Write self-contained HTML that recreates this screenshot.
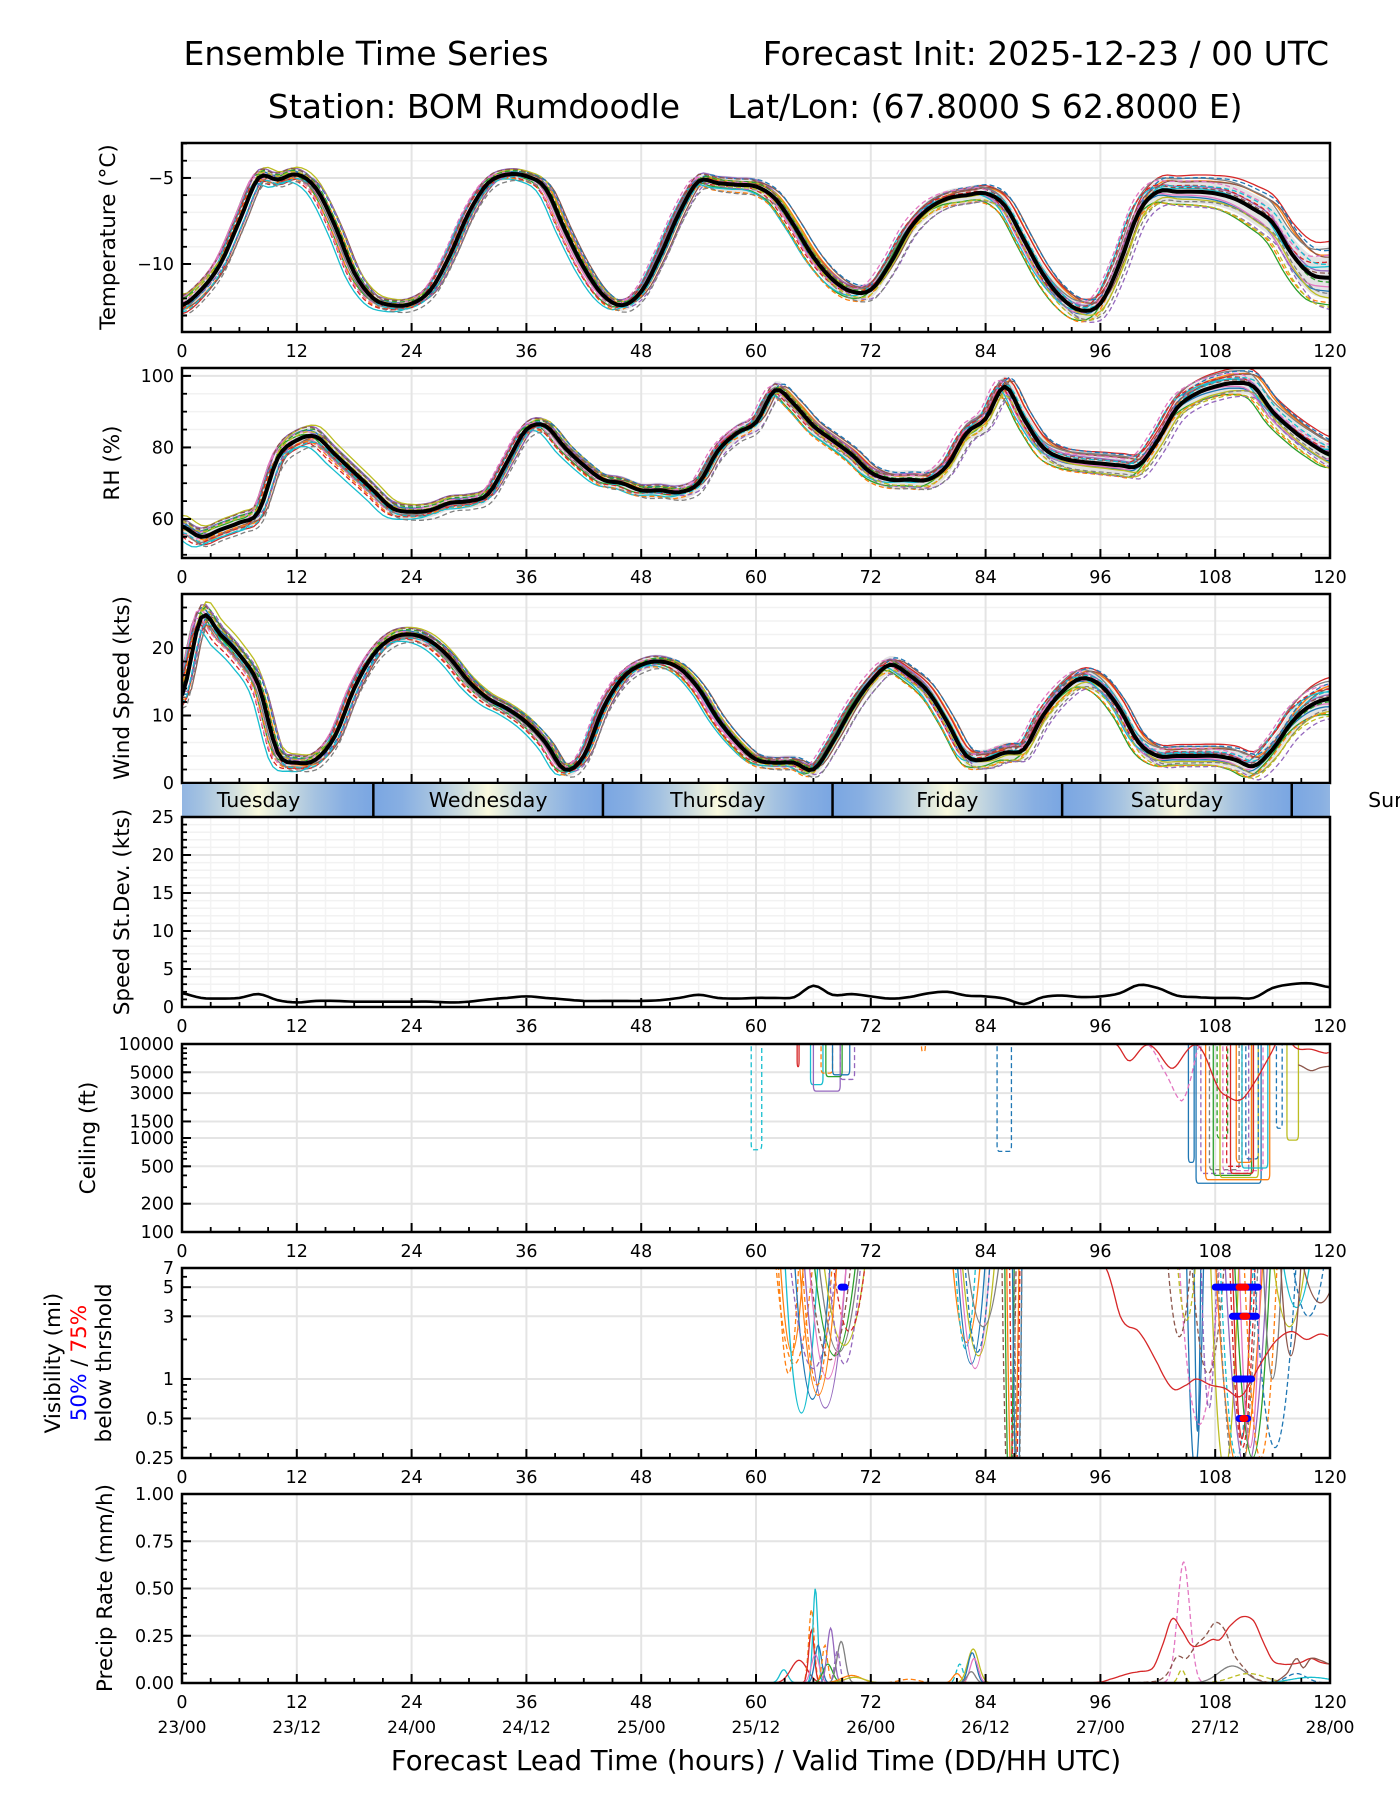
<!DOCTYPE html>
<html><head><meta charset="utf-8"><title>Ensemble Time Series</title>
<style>html,body{margin:0;padding:0;background:#fff;width:1400px;height:1800px;overflow:hidden}svg{display:block;font-family:"DejaVu Sans","Liberation Sans",sans-serif}</style>
</head><body>
<svg id="chart" width="1400" height="1800" viewBox="0 0 1400 1800" xmlns="http://www.w3.org/2000/svg">
<defs id="defs"></defs>
<text x="366" y="65" font-size="33" text-anchor="middle">Ensemble Time Series</text>
<text x="1329" y="65" font-size="33" text-anchor="end">Forecast Init: 2025-12-23 / 00 UTC</text>
<text x="474" y="118" font-size="33" text-anchor="middle">Station: BOM Rumdoodle</text>
<text x="985" y="118" font-size="33" text-anchor="middle">Lat/Lon: (67.8000 S 62.8000 E)</text>
<g id="root"></g>
</svg>
<script>
// ---------- DATA ----------
const leadHours2h = [0,2,4,6,8,10,12,14,16,18,20,22,24,26,28,30,32,34,36,38,40,42,44,46,48,50,52,54,56,58,60,62,64,66,68,70,72,74,76,78,80,82,84,86,88,90,92,94,96,98,100,102,104,106,108,110,112,114,116,118,120];
const tempMean = [-12.4,-11.5,-10.0,-7.5,-5.0,-5.1,-4.8,-5.6,-7.8,-10.5,-12.0,-12.4,-12.3,-11.5,-9.5,-7.0,-5.3,-4.8,-4.9,-5.6,-8.0,-10.2,-11.8,-12.4,-11.6,-9.5,-7.0,-5.2,-5.3,-5.4,-5.5,-6.2,-7.8,-9.6,-10.9,-11.6,-11.5,-10.0,-8.0,-6.8,-6.2,-6.0,-5.9,-6.6,-8.6,-10.6,-12.0,-12.7,-12.3,-10.0,-7.0,-5.8,-5.8,-5.8,-5.9,-6.2,-6.8,-7.6,-9.4,-10.6,-10.8];
const rhMean = [58,55,57,59,62,77,82,83,78,73,68,63,62,62.5,64.5,65,67,76,85,86,80,75,71,70,68,68,67.5,70,79,84,87,96,92,86,82,78,73,71,71,71,75,84,88,97,88,80,77,76,75.5,75,75,82,91,95,97,98,97,90,85,81,78];
const windMean = [13,24.5,22,19,14.5,4.5,3,3.5,7,14,19,21.5,22,21,18.5,15,12.5,11,9,6,2,4,11,15.5,17.5,18,17,14,9.5,6,3.5,3,3,2,6,11,15,17.5,16,13.5,9,4,3.5,4.5,5,10,13.5,15.5,14.5,11,6,4,4,4,4,3.5,2.5,5,9,11.5,12.5];
const sdMean = [1.8,1.2,1.1,1.2,1.7,0.9,0.6,0.8,0.8,0.7,0.7,0.7,0.7,0.7,0.6,0.7,1.0,1.2,1.4,1.2,1.0,0.8,0.8,0.8,0.8,0.9,1.2,1.6,1.2,1.1,1.2,1.2,1.3,2.8,1.6,1.7,1.4,1.1,1.3,1.8,2.0,1.5,1.4,1.1,0.4,1.3,1.5,1.3,1.4,1.8,2.9,2.5,1.5,1.3,1.2,1.2,1.2,2.5,3.0,3.1,2.6];
const spreadHours = [0,12,24,36,48,60,72,84,96,108,120];
const tempSpread = [0.4,0.3,0.3,0.3,0.35,0.5,0.5,0.5,0.6,0.7,1.2];
const rhSpread = [2,2.5,2,2,2,2.5,2.5,3,3,3,3];
const windSpread = [1.5,1,1,1,1,1,1.3,1.5,1.5,1.3,2];
const memColors = ['#1f77b4','#ff7f0e','#2ca02c','#d62728','#9467bd','#8c564b','#e377c2','#7f7f7f','#bcbd22','#17becf'];
const memOffA = [0.8,-0.5,0.3,-1.1,1.2,-0.2,0.6,-0.8,1.5,-1.4,0.1,-0.6,0.9,-1.0,0.4,1.1,-0.3,-1.3,0.7,-0.9];
const memOffB = [-0.6,1.0,-1.2,1.6,0.3,0.9,-0.4,1.3,-0.9,0.5,1.2,-1.1,-0.2,0.7,-1.4,0.2,1.0,-0.7,-1.3,0.6];
const memShift = [0.3,-0.4,0.6,-0.2,0.1,-0.7,0.5,0.2,-0.3,0.8,-0.5,0.4,-0.1,0.6,-0.6,0.2,0.7,-0.4,0.0,-0.2];
// ceiling events
const ceilStart = [59.5,64.3,65.7,66.0,66.8,67.3,68.0,68.8,77.3,85.2,105.2,106.0,106.5,107.0,107.4,107.8,108.2,108.5,108.8,109.2,109.6,110.2,110.8,111.2,114.4,115.5];
const ceilEnd = [60.6,64.5,67.0,68.8,68.0,69.0,69.8,70.3,77.7,86.7,105.8,112.8,111.5,113.7,110.5,111.8,109.3,112.5,113.0,110.8,112.0,111.8,113.5,112.5,115.0,116.7];
const ceilMin = [750,5750,3700,3150,4900,4500,4700,4200,8300,720,550,330,420,360,460,400,1000,380,450,500,420,550,480,600,1270,950];
const ceilColor = [9,3,9,4,1,2,0,4,1,0,0,0,4,1,7,2,2,8,6,3,3,1,9,0,0,8];
const ceilDash = [1,0,0,0,1,0,0,1,1,1,0,0,1,0,1,0,1,0,1,1,0,0,0,1,1,0];
const ceilRedH = [97.6,99,101,103.5,106,108,109.5,111,112.5,113.7,115,116.5,118,119.5,120];
const ceilRedV = [10000,6600,9800,5500,9800,4000,2700,2700,4500,7500,12000,9000,8800,8000,8200];
const ceilPinkH = [101,102.5,104.4,105.5,106.5];
const ceilPinkV = [9800,5500,2500,4500,10500];
const ceilBrownH = [116.7,118,119,120];
const ceilBrownV = [6000,5200,5600,5800];
// visibility events
const visStart = [62.0,62.3,62.5,63.0,64.0,63.5,65.0,64.8,65.5,66.0,66.5,67.0,67.5,68.0,65.5,64.5,80.5,80.8,81.0,81.3,81.5,81.8,82.0,85.7,86.0,86.2,86.5,86.8,87.0,105.0,105.8,104.2,105.5,106.5,107.5,108.0,108.2,108.5,109.0,109.5,109.8,110.0,110.5,111.0,112.0,113.0,114.0,115.0,116.0,117.0,114.8,104.0,103.0];
const visEnd = [66.0,64.5,65.0,66.5,67.8,68.5,69.5,68.0,70.0,70.5,70.8,71.5,71.0,71.5,69.5,68.5,83.5,83.0,84.0,84.5,85.0,84.5,85.5,87.2,87.0,87.5,87.6,87.8,87.8,106.8,106.5,108.5,109.0,108.2,110.5,113.0,112.5,112.0,113.5,112.2,111.8,113.8,112.8,114.5,116.5,115.0,117.5,118.0,119.5,121.0,117.0,106.0,105.5];
const visMin = [1.3,1.1,1.6,0.55,0.7,1.2,0.6,0.9,1.4,1.5,1.6,1.8,1.3,2.3,1.0,0.75,1.9,1.7,1.3,1.2,1.5,1.6,2.5,0.1,0.1,0.1,0.1,0.1,0.1,0.2,0.4,0.45,1.1,0.6,0.2,0.2,0.15,0.25,0.2,0.3,0.35,0.25,0.3,0.25,0.3,1.0,2.5,3.5,3.0,3.8,1.5,2.8,2.1];
const visColor = [1,1,1,9,0,4,4,1,5,2,7,8,4,3,6,1,1,9,0,6,8,0,7,5,2,1,3,0,7,0,0,6,5,4,8,1,7,9,4,3,3,2,6,1,0,7,8,9,0,5,5,8,5];
const visDash = [1,1,0,0,0,1,0,1,1,0,0,0,1,1,0,0,0,1,0,0,0,1,0,1,0,0,1,0,1,0,0,1,1,1,0,0,1,1,0,1,0,0,0,1,1,0,0,0,1,0,0,1,1];
const visRedH = [96.3,98,100,102,103.5,105,106,107.5,109,110.5,111.5,113,114.5,116,117.5,119,120];
const visRedV = [7.5,3.1,2.3,1.3,0.85,0.9,1.0,0.9,0.85,0.73,0.9,1.4,2.0,2.3,2.0,2.2,2.1];
const vis50Level = [5,3,1,0.5,5];
const vis50Start = [108.0,109.8,110.1,110.5,68.9];
const vis50End = [112.5,112.3,111.8,111.4,69.3];
const vis75Level = [5,3,0.5];
const vis75Start = [110.5,110.9,110.9];
const vis75End = [111.2,111.3,111.1];
// precipitation
const prCenter = [62.9,64.5,65.8,65.8,66.2,66.5,66.2,67.5,67.8,67.2,68.9,68.5,70.0,70.3,76.0,81.3,81.0,82.7,82.6,82.8,82.5,104.7,104.5,109.8,111.5,116.5,118.0];
const prPeak = [0.07,0.12,0.39,0.28,0.5,0.2,0.15,0.1,0.29,0.2,0.22,0.17,0.04,0.03,0.02,0.1,0.05,0.18,0.16,0.13,0.06,0.64,0.07,0.09,0.05,0.05,0.03];
const prWidth = [0.6,1.2,0.4,0.4,0.35,0.5,0.6,0.7,0.5,0.4,0.6,0.4,1.5,1.5,1.5,0.5,0.6,0.8,0.6,0.6,0.6,0.9,0.5,2.0,2.5,1.5,3.0];
const prColor = [9,3,1,3,9,0,6,2,4,1,7,4,1,8,1,9,1,8,0,6,7,6,8,7,8,0,9];
const prDash = [0,0,1,0,0,0,0,0,0,1,0,1,0,0,1,1,0,0,0,0,0,1,1,0,1,1,0];
const prRedH = [94,96,97,99,100,101.5,102.5,103.5,104.5,105.5,106.5,107.7,108.5,109.5,110.8,112,113,114,115,116,117,118,119,120];
const prRedV = [0,0.005,0.02,0.05,0.06,0.08,0.2,0.34,0.28,0.2,0.2,0.23,0.23,0.3,0.35,0.33,0.22,0.12,0.1,0.1,0.11,0.13,0.11,0.1];
const prBrownH = [98,102,103,104,105,106,107,108,109,110,111,112,113,114];
const prBrownV = [0,0.01,0.05,0.14,0.13,0.2,0.25,0.32,0.28,0.15,0.08,0.03,0.01,0];
const prBrown2H = [114,115.5,116.5,117.2,118,119,120];
const prBrown2V = [0,0.05,0.13,0.08,0.13,0.12,0.1];
const xMajorTicks = [0,12,24,36,48,60,72,84,96,108,120];
const validLabels = ['23/00','23/12','24/00','24/12','25/00','25/12','26/00','26/12','27/00','27/12','28/00'];
const dayNames = ['Tuesday','Wednesday','Thursday','Friday','Saturday','Sunday'];
const dayNoonHours = [8,32,56,80,104,128];
const dayMidnightHours = [20,44,68,92,116];

// ---------- HELPERS ----------
const NS='http://www.w3.org/2000/svg';
const root=document.getElementById('root');
const defs=document.getElementById('defs');
function mk(tag,attrs,parent){const e=document.createElementNS(NS,tag);for(const k in attrs)e.setAttribute(k,attrs[k]);(parent||root).appendChild(e);return e;}
const XL=182,XR=1330;
function X(h){return XL+h*(XR-XL)/120;}
function interp(xs,ys,t){if(t<=xs[0])return ys[0];const n=xs.length;if(t>=xs[n-1])return ys[n-1];let i=0;while(xs[i+1]<t)i++;const f=(t-xs[i])/(xs[i+1]-xs[i]);return ys[i]+f*(ys[i+1]-ys[i]);}
function smooth(xs,ys,t){
 const n=xs.length;if(t<=xs[0])return ys[0];if(t>=xs[n-1])return ys[n-1];let i=0;while(xs[i+1]<t)i++;
 const f=(t-xs[i])/(xs[i+1]-xs[i]);const p0=ys[Math.max(i-1,0)],p1=ys[i],p2=ys[i+1],p3=ys[Math.min(i+2,n-1)];
 return 0.5*((2*p1)+(-p0+p2)*f+(2*p0-5*p1+4*p2-p3)*f*f+(-p0+3*p1-3*p2+p3)*f*f*f);}
function linScale(v0,v1,top,bot){return v=>bot-(v-v0)/(v1-v0)*(bot-top);}
function logScale(v0,v1,top,bot){return v=>bot-(Math.log(v)-Math.log(v0))/(Math.log(v1)-Math.log(v0))*(bot-top);}
let clipId=0;
function panelFrame(name,top,bot,Y,gridMajor,gridMinor,yLabels,yTickVals,minorTickVals,showXGridMinor){
 const g=mk('g',{});
 
 
 if(showXGridMinor){for(let h=3;h<120;h+=3){if(h%12===0)continue;const l=mk('line',{x1:X(h),x2:X(h),y1:top,y2:bot,stroke:'#f3f3f3','stroke-width':1.5},g);}}
 gridMinor.forEach(v=>{const l=mk('line',{x1:XL,x2:XR,y1:Y(v),y2:Y(v),stroke:'#f2f2f2','stroke-width':1.5},g);});
 gridMajor.forEach(v=>{const l=mk('line',{x1:XL,x2:XR,y1:Y(v),y2:Y(v),stroke:'#e4e4e4','stroke-width':2},g);});
 xMajorTicks.forEach(h=>{const l=mk('line',{x1:X(h),x2:X(h),y1:top,y2:bot,stroke:'#e4e4e4','stroke-width':2},g);});
 const cp=mk('clipPath',{id:'cp'+(++clipId)},defs);mk('rect',{x:XL,y:top,width:XR-XL,height:bot-top},cp);
 const data=mk('g',{'clip-path':'url(#cp'+clipId+')'},g);
 
 
 return {g,data,top,bot,Y,yLabels,yTickVals,minorTickVals,name};
}
function panelAxes(p,xLabelOffset){
 const {g,top,bot,Y}=p;
 const fr=mk('rect',{x:XL,y:top,width:XR-XL,height:bot-top,fill:'none',stroke:'#000','stroke-width':2.5},g);
 
 
 p.minorTickVals.forEach(v=>{const y=Y(v);if(y<top-0.5||y>bot+0.5)return;const t=mk('line',{x1:XL,x2:XL+5,y1:y,y2:y,stroke:'#000','stroke-width':1.8},g);});
 p.yTickVals.forEach((v,i)=>{const y=Y(v);const t=mk('line',{x1:XL,x2:XL+9,y1:y,y2:y,stroke:'#000','stroke-width':2},g);
  const tx=mk('text',{x:XL-8,y:y+6,'font-size':17.5,'text-anchor':'end'},g);tx.textContent=p.yLabels[i];});
 for(let h=3;h<120;h+=3){const maj=h%12===0;const t=mk('line',{x1:X(h),x2:X(h),y1:bot,y2:bot-(maj?9:5),stroke:'#000','stroke-width':maj?2:1.8},g);}
 if(xLabelOffset){xMajorTicks.forEach(h=>{const tx=mk('text',{x:X(h),y:bot+xLabelOffset,'font-size':17.5,'text-anchor':'middle'},g);tx.textContent=String(h);});}
}
function yTitle(x,cy,text){const t=mk('text',{x:0,y:0,'font-size':21.5,'text-anchor':'middle',transform:`translate(${x},${cy}) rotate(-90)`});t.textContent=text;return t;}
function pathFrom(pts){return pts.map((p,i)=>(i?'L':'M')+p[0].toFixed(1)+','+p[1].toFixed(1)).join('');}
function ensemblePanel(p,mean,spread,scaleFactor){
 const Y=p.Y;const up=[],dn=[],mp=[];
 for(let t=0;t<=120;t+=0.5){const m=smooth(leadHours2h,mean,t),s=interp(spreadHours,spread,t);up.push([X(t),Y(m+s)]);dn.push([X(t),Y(m-s)]);mp.push([X(t),Y(m)]);}
 const band=mk('path',{d:pathFrom(up.concat(dn.reverse()))+'Z',fill:'#d9d9d9','fill-opacity':0.7},p.data);
 
 
 for(let m=0;m<20;m++){const pts=[];
  for(let t=0;t<=120;t+=0.5){const f=t/120;const off=memOffA[m]*(1-f)+memOffB[m]*f;const v=smooth(leadHours2h,mean,Math.min(120,Math.max(0,t+memShift[m])))+interp(spreadHours,spread,t)*off*scaleFactor;pts.push([X(t),Y(v)]);}
  const l=mk('path',{d:pathFrom(pts),fill:'none',stroke:memColors[m%10],'stroke-width':1.3,'stroke-dasharray':m>=10?'5,3':'none'},p.data);
  
  }
 const ml=mk('path',{d:pathFrom(mp),fill:'none',stroke:'#000','stroke-width':4,'stroke-linejoin':'round'},p.data);
 
 
}
function range(a,b,s){const r=[];for(let v=a;v<=b+1e-9;v+=s)r.push(+v.toFixed(4));return r;}

// ---------- TEMPERATURE ----------
let Y=linScale(-13.95,-2.97,143,332);
let p=panelFrame('temperature',143,332,Y,[-5,-10],range(-13,-3,1),['\u22125','\u221210'],[-5,-10],range(-13,-3,1),false);
ensemblePanel(p,tempMean,tempSpread,1.1);
panelAxes(p,25);
let yt=yTitle(115,237,'Temperature (\u00b0C)');

// ---------- RH ----------
Y=linScale(49.1,102.2,368,558);
p=panelFrame('rh',368,558,Y,[60,80,100],range(50,100,5),['60','80','100'],[60,80,100],range(50,100,5),false);
ensemblePanel(p,rhMean,rhSpread,1);
panelAxes(p,25);
yt=yTitle(119,463,'RH (%)');

// ---------- WIND ----------
Y=linScale(0,28,594,783);
p=panelFrame('wind-speed',594,783,Y,[0,10,20],range(2,28,2),['0','10','20'],[0,10,20],range(2,28,2),false);
ensemblePanel(p,windMean,windSpread,1);
panelAxes(p,0);
yt=yTitle(129,688,'Wind Speed (kts)');

// ---------- DAY BAND ----------
const grad=mk('linearGradient',{id:'dayGrad',gradientUnits:'userSpaceOnUse',x1:X(-4),x2:X(140),y1:0,y2:0},defs);
for(let h=-4;h<=140;h+=3){const ph=((h-20)%24+24)%24;const d=Math.min(ph,24-ph)/12;
 const w=Math.pow(d,1.6);const r=Math.round(122+(250-122)*w),gg=Math.round(166+(250-166)*w),b=Math.round(226+(222-226)*w);
 mk('stop',{offset:((h+4)/144).toFixed(4),'stop-color':`rgb(${r},${gg},${b})`},grad);}
const bandG=mk('g',{});


const br=mk('rect',{x:XL,y:784,width:XR-XL,height:33,fill:'url(#dayGrad)'},bandG);


dayMidnightHours.forEach(h=>{const l=mk('line',{x1:X(h),x2:X(h),y1:784,y2:817,stroke:'#000','stroke-width':2.5},bandG);});
dayNames.forEach((n,i)=>{const t=mk('text',{x:X(dayNoonHours[i]),y:807,'font-size':20.5,'text-anchor':'middle'},bandG);t.textContent=n;});

// ---------- STDEV ----------
Y=linScale(0,25,817,1007);
p=panelFrame('speed-stdev',817,1007,Y,[0,5,10,15,20,25],range(1,24,1),['0','5','10','15','20','25'],[0,5,10,15,20,25],range(1,24,1),true);
{const pts=[];for(let t=0;t<=120;t+=0.5)pts.push([X(t),Y(smooth(leadHours2h,sdMean,t))]);
 const l=mk('path',{d:pathFrom(pts),fill:'none',stroke:'#000','stroke-width':2.6},p.data);}
panelAxes(p,25);
yt=yTitle(129,912,'Speed St.Dev. (kts)');

// ---------- CEILING ----------
Y=logScale(100,10000,1044,1232);
const ceilMinor=[];[100,1000].forEach(d=>{for(let k=2;k<=9;k++)ceilMinor.push(k*d);});
p=panelFrame('ceiling',1044,1232,Y,[200,500,1000,1500,3000,5000],[],['100','200','500','1000','1500','3000','5000','10000'],[100,200,500,1000,1500,3000,5000,10000],ceilMinor,false);
for(let i=0;i<ceilStart.length;i++){const s=ceilStart[i],e=ceilEnd[i],ym=Y(ceilMin[i]),yt0=Y(14000);const r=Math.min(0.25,(e-s)/3);
 const d=`M${X(s)},${yt0}L${X(s)},${ym-6}Q${X(s)},${ym} ${X(s+r)},${ym}L${X(e-r)},${ym}Q${X(e)},${ym} ${X(e)},${ym-6}L${X(e)},${yt0}`;
 const l=mk('path',{d,fill:'none',stroke:memColors[ceilColor[i]],'stroke-width':1.3,'stroke-dasharray':ceilDash[i]?'5,3':'none'},p.data);
 
 }
[[ceilRedH,ceilRedV,3,0,'ceiling-red-member'],[ceilPinkH,ceilPinkV,6,1,'ceiling-pink-member'],[ceilBrownH,ceilBrownV,5,0,'ceiling-brown-member']].forEach(([hs,vs,c,dsh,nm])=>{
 const pts=[];for(let t=hs[0];t<=hs[hs.length-1]+1e-6;t+=0.25)pts.push([X(t),Y(smooth(hs,vs,t))]);
 const l=mk('path',{d:pathFrom(pts),fill:'none',stroke:memColors[c],'stroke-width':1.3,'stroke-dasharray':dsh?'5,3':'none'},p.data);
 
 });
panelAxes(p,25);
yt=yTitle(95,1138,'Ceiling (ft)');

// ---------- VISIBILITY ----------
Y=logScale(0.25,7,1268,1458);
p=panelFrame('visibility',1268,1458,Y,[0.5,1,3,5],[],['0.25','0.5','1','3','5','7'],[0.25,0.5,1,3,5,7],[0.3,0.4,0.6,0.7,0.8,0.9,2,4,6],false);
for(let i=0;i<visStart.length;i++){const s=visStart[i],e=visEnd[i];const ytop=Y(8.5);const ym=Y(Math.max(visMin[i],0.05));const cy=2*ym-ytop;
 const d=`M${X(s)},${ytop}Q${X((s+e)/2)},${cy} ${X(e)},${ytop}`;
 const l=mk('path',{d,fill:'none',stroke:memColors[visColor[i]],'stroke-width':1.3,'stroke-dasharray':visDash[i]?'5,3':'none'},p.data);
 
 }
{const pts=[];for(let t=visRedH[0];t<=120;t+=0.25)pts.push([X(t),Y(smooth(visRedH,visRedV,t))]);
 const l=mk('path',{d:pathFrom(pts),fill:'none',stroke:memColors[3],'stroke-width':1.3},p.data);}
for(let i=0;i<vis50Level.length;i++){const l=mk('line',{x1:X(vis50Start[i]),x2:X(vis50End[i]),y1:Y(vis50Level[i]),y2:Y(vis50Level[i]),stroke:'#0000ff','stroke-width':7,'stroke-linecap':'round'},p.data);}
for(let i=0;i<vis75Level.length;i++){const l=mk('line',{x1:X(vis75Start[i]),x2:X(vis75End[i]),y1:Y(vis75Level[i]),y2:Y(vis75Level[i]),stroke:'#ff0000','stroke-width':7,'stroke-linecap':'round'},p.data);}
panelAxes(p,25);
{const t1=yTitle(60,1363,'Visibility (mi)');
 const t2=mk('text',{x:0,y:0,'font-size':21.5,'text-anchor':'middle',transform:'translate(86,1363) rotate(-90)'});
 
 
 const s1=mk('tspan',{fill:'#0000ff'},t2);s1.textContent='50%';const s2=mk('tspan',{fill:'#000'},t2);s2.textContent=' / ';const s3=mk('tspan',{fill:'#ff0000'},t2);s3.textContent='75%';
 const t3=yTitle(111,1363,'below thrshold');}

// ---------- PRECIP ----------
Y=linScale(0,1,1494,1683);
p=panelFrame('precip-rate',1494,1683,Y,[0.25,0.5,0.75],[],['0.00','0.25','0.50','0.75','1.00'],[0,0.25,0.5,0.75,1],range(0.05,0.95,0.05),false);
for(let i=0;i<prCenter.length;i++){const pts=[];const c=prCenter[i],w=prWidth[i];
 for(let t=c-3.2*w;t<=c+3.2*w;t+=0.1){const v=prPeak[i]*Math.exp(-Math.pow((t-c)/w,2));pts.push([X(t),Y(v)]);}
 const l=mk('path',{d:pathFrom(pts),fill:'none',stroke:memColors[prColor[i]],'stroke-width':1.3,'stroke-dasharray':prDash[i]?'5,3':'none'},p.data);
 
 }
[[prRedH,prRedV,3,0,'precip-red-member'],[prBrownH,prBrownV,5,1,'precip-brown-dashed-member'],[prBrown2H,prBrown2V,5,0,'precip-brown-member']].forEach(([hs,vs,c,dsh,nm])=>{
 const pts=[];for(let t=hs[0];t<=hs[hs.length-1]+1e-6;t+=0.2)pts.push([X(t),Y(Math.max(0,smooth(hs,vs,t)))]);
 const l=mk('path',{d:pathFrom(pts),fill:'none',stroke:memColors[c],'stroke-width':1.3,'stroke-dasharray':dsh?'5,3':'none'},p.data);
 
 });
panelAxes(p,25);
validLabels.forEach((s,i)=>{const t=mk('text',{x:X(xMajorTicks[i]),y:1733,'font-size':17,'text-anchor':'middle'});t.textContent=s;});
yt=yTitle(112,1588,'Precip Rate (mm/h)');
{const t=mk('text',{x:756,y:1770,'font-size':27.5,'text-anchor':'middle'});t.textContent='Forecast Lead Time (hours) / Valid Time (DD/HH UTC)';}
</script>
</body></html>
